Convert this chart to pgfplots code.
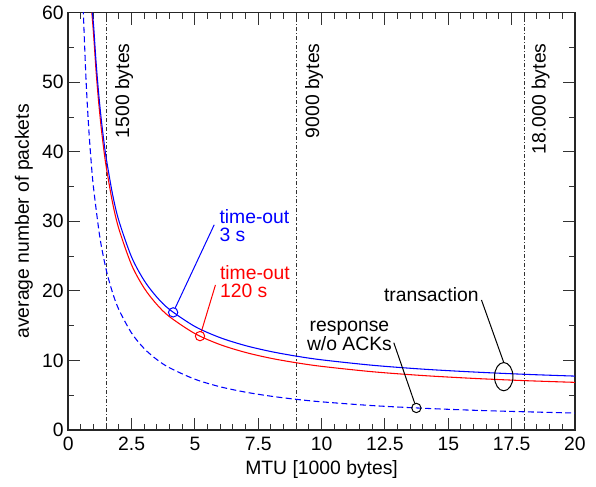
\documentclass[border=0pt]{standalone}
\usepackage{fontspec}
\setmainfont{Liberation Sans}
\usepackage{pgfplots}
\pgfplotsset{compat=1.18}
\newcommand\lbl{\fontsize{14.5}{17}\selectfont}

% curves
\pgfplotstableread{
x y
0.95 60.0
1.0 58.15
1.1 52.78
1.2 48.40
1.3 44.75
1.4 41.68
1.5 39.04
1.75 33.86
2.0 30.06
2.5 24.86
3.0 21.47
3.5 19.09
4.0 17.32
5.0 14.88
6.0 13.27
7.0 12.13
8.0 11.28
9.0 10.62
10 10.09
12 9.31
14 8.75
16 8.34
18 8.01
20 7.75
}\tblue
\pgfplotstableread{
x y
0.93 60.0
1.0 56.84
1.1 51.48
1.2 47.12
1.3 43.48
1.4 40.41
1.5 37.79
1.75 32.65
2.0 28.89
2.5 23.73
3.0 20.38
3.5 18.03
4.0 16.28
5.0 13.86
6.0 12.27
7.0 11.15
8.0 10.31
9.0 9.67
10 9.15
12 8.38
14 7.83
16 7.42
18 7.10
20 6.85
}\tred
\pgfplotstableread{
x y
0.59 60.63
0.6 59.54
0.7 50.48
0.8 43.83
0.9 38.75
1.0 34.74
1.25 27.65
1.5 23.00
1.75 19.73
2.0 17.29
2.5 13.93
3.0 11.70
3.5 10.12
4.0 8.94
5 7.30
6 6.21
7 5.44
8 4.86
9 4.41
10 4.05
12 3.51
14 3.13
16 2.84
18 2.62
20 2.44
}\tresp

\begin{document}
\begin{tikzpicture}
\useasboundingbox (-51.2pt,-42pt) rectangle (395.8pt,322.5pt);
\begin{axis}[
    at={(0,0)}, anchor=south west,
    scale only axis,
    width=380pt, height=313pt,
    xmin=0, xmax=20, ymin=0, ymax=60,
    xtick={0,2.5,5,7.5,10,12.5,15,17.5,20},
    xticklabels={0,2.5,5,7.5,10,12.5,15,17.5,20},
    ytick={0,10,20,30,40,50,60},
    minor x tick num=4,
    minor y tick num=1,
    tick align=inside,
    major tick length=9pt,
    minor tick length=4.5pt,
    tick style={line width=0.7pt, black!80},
    axis line style={line width=1.2pt, black!85},
    /pgf/number format/assume math mode=true,
    tick label style={font=\lbl},
    xticklabel style={yshift=-2pt},
    label style={font=\lbl},
    xlabel={MTU [1000 bytes]},
    ylabel={average number of packets},
    clip=true,
]
% MTU markers
\addplot[black!80, line width=0.6pt, dash pattern=on 3pt off 1.5pt on 0.8pt off 1.5pt] coordinates {(1.5,0) (1.5,60)};
\addplot[black!80, line width=0.6pt, dash pattern=on 3pt off 1.5pt on 0.8pt off 1.5pt] coordinates {(9,0) (9,60)};
\addplot[black!80, line width=0.6pt, dash pattern=on 3pt off 1.5pt on 0.8pt off 1.5pt] coordinates {(18,0) (18,60)};

\addplot[blue, line width=0.8pt, smooth, dash pattern=on 4.5pt off 2.5pt] table {\tresp};
\addplot[red, line width=0.8pt, smooth] table {\tred};
\addplot[blue, line width=0.8pt, smooth] table {\tblue};

\addplot[blue, only marks, mark=o, mark size=3.5pt, mark options={line width=0.75pt}] coordinates {(4.14,16.91)};
\addplot[red, only marks, mark=o, mark size=3.5pt, mark options={line width=0.75pt}] coordinates {(5.2,13.5)};
\addplot[black, only marks, mark=o, mark size=3.5pt, mark options={line width=0.75pt}] coordinates {(13.74,3.17)};

\node[rotate=90, anchor=north east, inner sep=0, font=\lbl] at (axis cs:1.84,55.6) {1500 bytes};
\node[rotate=90, anchor=north east, inner sep=0, font=\lbl] at (axis cs:9.34,55.6) {9000 bytes};
\node[rotate=90, anchor=north east, inner sep=0, font=\lbl] at (axis cs:18.28,55.6) {18.000 bytes};

\draw[blue, line width=0.75pt, shorten >=3.5pt] (axis cs:5.76,29.5) -- (axis cs:4.14,16.91);
\node[blue, anchor=base west, inner sep=0, font=\lbl] at (axis cs:5.96,29.72) {time-out};
\node[blue, anchor=base west, inner sep=0, font=\lbl] at (axis cs:5.96,27.07) {3 s};

\draw[red, line width=0.75pt, shorten >=3.5pt] (axis cs:5.81,20.85) -- (axis cs:5.2,13.5);
\node[red, anchor=base west, inner sep=0, font=\lbl] at (axis cs:5.98,21.67) {time-out};
\node[red, anchor=base west, inner sep=0, font=\lbl] at (axis cs:5.98,19.08) {120 s};

\draw[black, line width=0.75pt, shorten >=3.5pt] (axis cs:12.85,12.55) -- (axis cs:13.74,3.17);
\node[anchor=base, inner sep=0, font=\lbl] at (axis cs:11.1,14.14) {response};
\node[anchor=base, inner sep=0, font=\lbl] at (axis cs:11.1,11.5) {w/o ACKs};

\draw[black, line width=0.75pt] (axis cs:17.19,7.67) ellipse [x radius=6.9pt, y radius=10.6pt];
\draw[black, line width=0.75pt] (axis cs:16.31,18.7) -- (axis cs:17.19,9.71);
\node[anchor=base, inner sep=0, font=\lbl] at (axis cs:14.33,18.45) {transaction};
\end{axis}
\end{tikzpicture}
\end{document}
